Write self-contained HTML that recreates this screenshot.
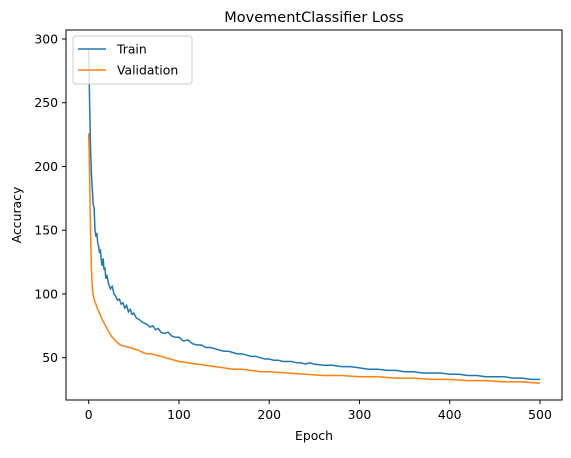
<!DOCTYPE html>
<html><head><meta charset="utf-8"><style>
body{margin:0;background:#fff;}
svg text{font-family:"DejaVu Sans","Liberation Sans",sans-serif;fill:#000;}
</style></head><body>
<svg id="chart" width="571" height="453" viewBox="0 0 571 453" xmlns="http://www.w3.org/2000/svg">
<text x="314" y="22" font-size="14.5" text-anchor="middle">MovementClassifier Loss</text>
<g id="marks"></g>
<rect x="66" y="30" width="496" height="370" fill="none" stroke="#000" stroke-width="1"/>
<g id="axes"></g>
<text x="314" y="440" font-size="12.4" text-anchor="middle">Epoch</text>
<text transform="translate(21,215) rotate(-90)" font-size="12.4" text-anchor="middle">Accuracy</text>
<g>
<rect x="73" y="36" width="119" height="48" rx="3" fill="#fff" fill-opacity="0.8" stroke="#ccc"/>
<line x1="78" y1="49" x2="106" y2="49" stroke="#1f77b4" stroke-width="1.5"/>
<text x="117" y="53.5" font-size="12.4">Train</text>
<line x1="78" y1="70" x2="106" y2="70" stroke="#ff7f0e" stroke-width="1.5"/>
<text x="117" y="74.5" font-size="12.4">Validation</text>
</g>
</svg>
<script>
const xTicks=[0,100,200,300,400,500];
const yTicks=[50,100,150,200,250,300];
const trainEpochs=[0,1,2,3,4,5,6,7,8,9,10,11,12,13,14,15,16,17,18,19,20,22,24,26,28,30,32,34,36,38,40,42,44,46,48,50,53,56,59,62,65,68,71,74,77,80,84,88,92,96,100,105,110,115,120,125,130,135,140,145,150,155,160,165,170,175,180,185,190,195,200,205,210,215,220,225,230,235,240,245,250,260,270,280,290,300,310,320,330,340,350,360,370,380,390,400,410,420,430,440,450,460,470,480,490,500];
const trainValues=[292,250,215,195,182,170,168,150,145,148,140,138,132,135,126,122,128,119,121,112,115,108,104,106,100,98,95,96,92,93,89,91,86,88,84,85,81,80,78,77,76,74,75,72,73,70,69,70,67,66,66,63,64,61,60,60,58,58,57,56,55,55,54,53,53,52,51,51,50,49,49,48,48,47,47,47,46,46,45,46,45,44,44,43,43,42,41,41,40,40,39,39,38,38,38,37,37,36,36,35,35,35,34,34,33,33];
const valEpochs=[0,1,2,3,4,5,6,8,10,12,15,18,21,25,30,35,40,45,50,55,60,65,70,75,80,85,90,95,100,110,120,130,140,150,160,170,180,190,200,220,240,260,280,300,320,340,360,380,400,420,440,460,480,500];
const valValues=[226,195,150,120,105,99,96,92,88,85,80,76,72,67,63,60,59,58,57,56,54,53,53,52,51,50,49,48,47,46,45,44,43,42,41,41,40,39,39,38,37,36,36,35,35,34,34,33,33,32,32,31,31,30];
const X=v=>88.7+v*(540-88.7)/500;
const Y=v=>39+(300-v)*1.2748;
const NS="http://www.w3.org/2000/svg";
const marks=document.getElementById('marks'),axes=document.getElementById('axes');
function line(ex,vals,color,name){
  const p=document.createElementNS(NS,'polyline');
  p.setAttribute('points',ex.map((e,i)=>X(e).toFixed(1)+','+Y(vals[i]).toFixed(1)).join(' '));
  p.setAttribute('fill','none');p.setAttribute('stroke',color);p.setAttribute('stroke-width','1.5');
  
  
  marks.appendChild(p);
}
line(trainEpochs,trainValues,'#1f77b4','train-line');
line(valEpochs,valValues,'#ff7f0e','validation-line');
xTicks.forEach(t=>{
  const l=document.createElementNS(NS,'line');
  l.setAttribute('x1',X(t));l.setAttribute('x2',X(t));l.setAttribute('y1',400);l.setAttribute('y2',404);l.setAttribute('stroke','#000');
  
  
  axes.appendChild(l);
  const s=document.createElementNS(NS,'text');
  s.setAttribute('x',X(t));s.setAttribute('y',419);s.setAttribute('font-size','12.4');s.setAttribute('text-anchor','middle');
  s.textContent=t;
  
  
  axes.appendChild(s);
});
yTicks.forEach(t=>{
  const l=document.createElementNS(NS,'line');
  l.setAttribute('x1',62);l.setAttribute('x2',66);l.setAttribute('y1',Y(t));l.setAttribute('y2',Y(t));l.setAttribute('stroke','#000');
  
  
  axes.appendChild(l);
  const s=document.createElementNS(NS,'text');
  s.setAttribute('x',58);s.setAttribute('y',Y(t)+4.5);s.setAttribute('font-size','12.4');s.setAttribute('text-anchor','end');
  s.textContent=t;
  
  
  axes.appendChild(s);
});
</script>
</body></html>
